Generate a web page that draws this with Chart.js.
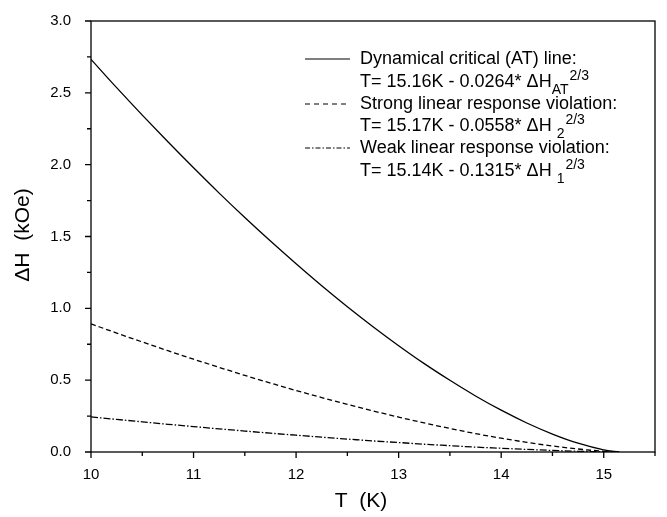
<!DOCTYPE html>
<html><head><meta charset="utf-8">
<script src="https://cdn.jsdelivr.net/npm/chart.js@4"></script>
<style>html,body{margin:0;padding:0;background:#fff}#wrap{width:667px;height:517px}</style>
</head><body><div id="wrap"><canvas id="c" width="667" height="517"></canvas></div>
<script>
const T = [10,10.25,10.5,10.75,11,11.25,11.5,11.75,12,12.25,12.5,12.75,13,13.25,13.5,13.75,14,14.25,14.5,14.75,15,15.15];
const atLine = [2.733,2.536,2.345,2.159,1.978,1.802,1.632,1.468,1.310,1.157,1.011,0.872,0.740,0.615,0.499,0.390,0.291,0.202,0.125,0.061,0.015,0];
const strongViolation = [0.892,0.828,0.766,0.705,0.646,0.589,0.533,0.480,0.428,0.379,0.331,0.286,0.243,0.202,0.164,0.128,0.096,0.067,0.042,0.021,0.005,0];
const weakViolation = [0.244,0.227,0.210,0.193,0.177,0.161,0.146,0.131,0.117,0.103,0.090,0.077,0.066,0.054,0.044,0.034,0.026,0.018,0.011,0.005,0.001,0];
const xMajor = [10,11,12,13,14,15];
const xMinor = [10.5,11.5,12.5,13.5,14.5,15.5];
const yMajor = [0,0.5,1,1.5,2,2.5,3];
const yMinor = [0.25,0.75,1.25,1.75,2.25,2.75];
const legendRows = [
  {dash:[], label:"Dynamical critical (AT) line:", formula:["T= 15.16K - 0.0264* \u0394H","AT","2/3"]},
  {dash:[5,4], label:"Strong linear response violation:", formula:["T= 15.17K - 0.0558* \u0394H ","2","2/3"]},
  {dash:[5,2,1.5,2], label:"Weak linear response violation:", formula:["T= 15.14K - 0.1315* \u0394H ","1","2/3"]}
];
const FONT = "'Liberation Sans', Arial, sans-serif";
const mk = (arr) => T.map((t,i)=>({x:t,y:arr[i]}));

const deco = {
  id:'deco',
  afterDraw(chart){
    const ctx = chart.ctx, a = chart.chartArea, xs = chart.scales.x, ys = chart.scales.y;
    ctx.save();
    ctx.strokeStyle = '#000'; ctx.lineWidth = 1.3;
    ctx.strokeRect(a.left, a.top, a.right-a.left, a.bottom-a.top);
    ctx.beginPath();
    xMajor.forEach(v=>{const p=xs.getPixelForValue(v); ctx.moveTo(p,a.bottom); ctx.lineTo(p,a.bottom+6);});
    xMinor.forEach(v=>{const p=xs.getPixelForValue(v); ctx.moveTo(p,a.bottom); ctx.lineTo(p,a.bottom+4);});
    yMajor.forEach(v=>{const p=ys.getPixelForValue(v); ctx.moveTo(a.left,p); ctx.lineTo(a.left-6,p);});
    yMinor.forEach(v=>{const p=ys.getPixelForValue(v); ctx.moveTo(a.left,p); ctx.lineTo(a.left-4,p);});
    ctx.stroke();
    // axis titles
    ctx.fillStyle = '#000';
    ctx.font = "21px " + FONT;
    ctx.textAlign = 'center'; ctx.textBaseline = 'middle';
    ctx.fillText('T  (K)', 361, 501);
    ctx.save(); ctx.translate(23, 235); ctx.rotate(-Math.PI/2);
    ctx.fillText('\u0394H  (kOe)', 0, 0); ctx.restore();
    // legend
    const rowY = [59, 104, 148], fY = [82, 126, 171];
    legendRows.forEach((r,i)=>{
      ctx.setLineDash(r.dash); ctx.lineWidth = 1.2;
      ctx.beginPath(); ctx.moveTo(305,rowY[i]); ctx.lineTo(350,rowY[i]); ctx.stroke();
      ctx.setLineDash([]);
      ctx.textAlign='left'; ctx.textBaseline='middle';
      ctx.font = "18px " + FONT;
      ctx.fillText(r.label, 360, rowY[i]);
      let x = 360;
      ctx.fillText(r.formula[0], x, fY[i]);
      x += ctx.measureText(r.formula[0]).width;
      ctx.font = "14px " + FONT;
      ctx.fillText(r.formula[1], x, fY[i]+8);
      x += ctx.measureText(r.formula[1]).width + 1;
      ctx.fillText(r.formula[2], x, fY[i]-6);
    });
    ctx.restore();
  }
};

new Chart(document.getElementById('c'), {
  type:'line',
  data:{datasets:[
    {data:mk(atLine), borderColor:'#000', borderWidth:1.3, pointRadius:0, cubicInterpolationMode:'monotone'},
    {data:mk(strongViolation), borderColor:'#000', borderWidth:1.3, borderDash:[5,3], pointRadius:0, cubicInterpolationMode:'monotone'},
    {data:mk(weakViolation), borderColor:'#000', borderWidth:1.3, borderDash:[7,2,1.5,2], pointRadius:0, cubicInterpolationMode:'monotone'}
  ]},
  options:{
    responsive:false, animation:false, devicePixelRatio:1,
    layout:{padding:{top:15,right:12,left:0,bottom:0}},
    plugins:{legend:{display:false}, tooltip:{enabled:false}},
    scales:{
      x:{type:'linear', min:10, max:15.5, afterFit(s){s.height=65;},
         grid:{display:false}, border:{display:false},
         ticks:{stepSize:1, includeBounds:false, autoSkip:false, padding:6, color:'#000', font:{family:FONT,size:15}, maxRotation:0,
           callback:(v)=>Number.isInteger(v)?String(v):''}},
      y:{type:'linear', min:0, max:3, afterFit(s){s.width=91;},
         grid:{display:false}, border:{display:false},
         ticks:{stepSize:0.5, padding:12, color:'#000', font:{family:FONT,size:15}, callback:(v)=>v.toFixed(1)}}
    }
  },
  plugins:[deco]
});
</script></body></html>
